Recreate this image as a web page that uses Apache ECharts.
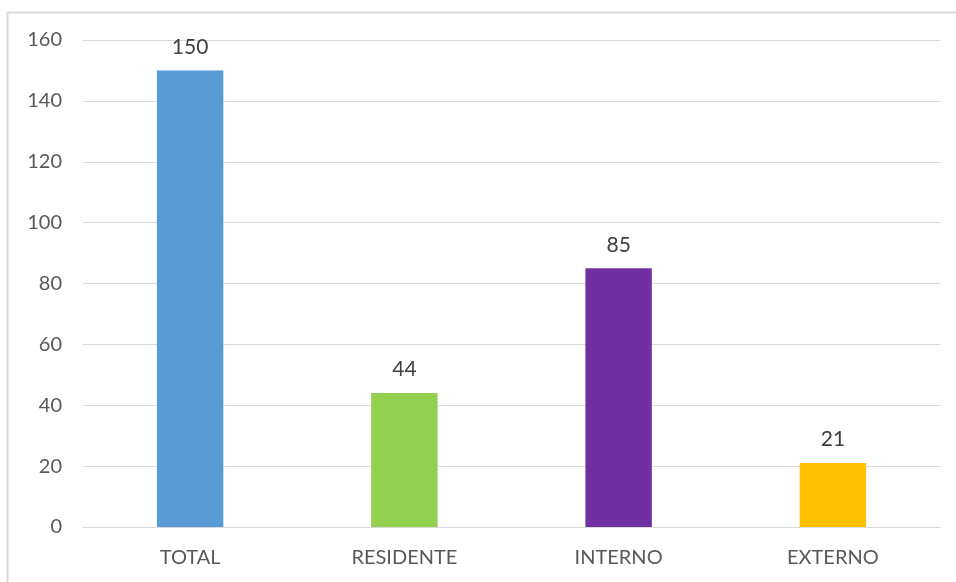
<!DOCTYPE html>
<html><head><meta charset="utf-8">
<script src="https://cdn.jsdelivr.net/npm/echarts@6/dist/echarts.min.js"></script>
<style>html,body{margin:0;padding:0;background:#fff}#c{width:956px;height:582px}</style>
</head><body><div id="c"></div>
<script>
const categories = ["TOTAL", "RESIDENTE", "INTERNO", "EXTERNO"];
const values = [150, 44, 85, 21];
const barColors = ["#5B9BD5", "#92D050", "#7030A0", "#FFC000"];
const yTicks = [0, 20, 40, 60, 80, 100, 120, 140, 160];

const chart = echarts.init(document.getElementById('c'));
const font = 'Lato, "Open Sans", sans-serif';
chart.setOption({
  animation: false,
  graphic: [{
    type: 'rect', shape: {x: 7.5, y: 12.5, width: 1000, height: 1000},
    style: {fill: 'none', stroke: '#d9d9d9', lineWidth: 2}, silent: true
  }],
  grid: {left: 83, right: 16, top: 40, bottom: 55, containLabel: false},
  xAxis: {
    type: 'category', data: categories,
    axisLine: {lineStyle: {color: '#d9d9d9', width: 1}},
    axisTick: {show: false},
    axisLabel: {color: '#595959', fontSize: 20, fontFamily: font, margin: 21}
  },
  yAxis: {
    type: 'value', min: yTicks[0], max: yTicks[yTicks.length - 1], interval: 20,
    axisLine: {show: false}, axisTick: {show: false},
    splitLine: {lineStyle: {color: '#d9d9d9', width: 1}},
    axisLabel: {color: '#595959', fontSize: 20, fontFamily: font, margin: 21}
  },
  series: [{
    type: 'bar', barWidth: '31%',
    data: values.map((v, i) => ({value: v, itemStyle: {color: barColors[i]}})),
    label: {show: true, position: 'top', distance: 13, color: '#404040', fontSize: 21, fontFamily: font}
  }]
});
</script></body></html>
